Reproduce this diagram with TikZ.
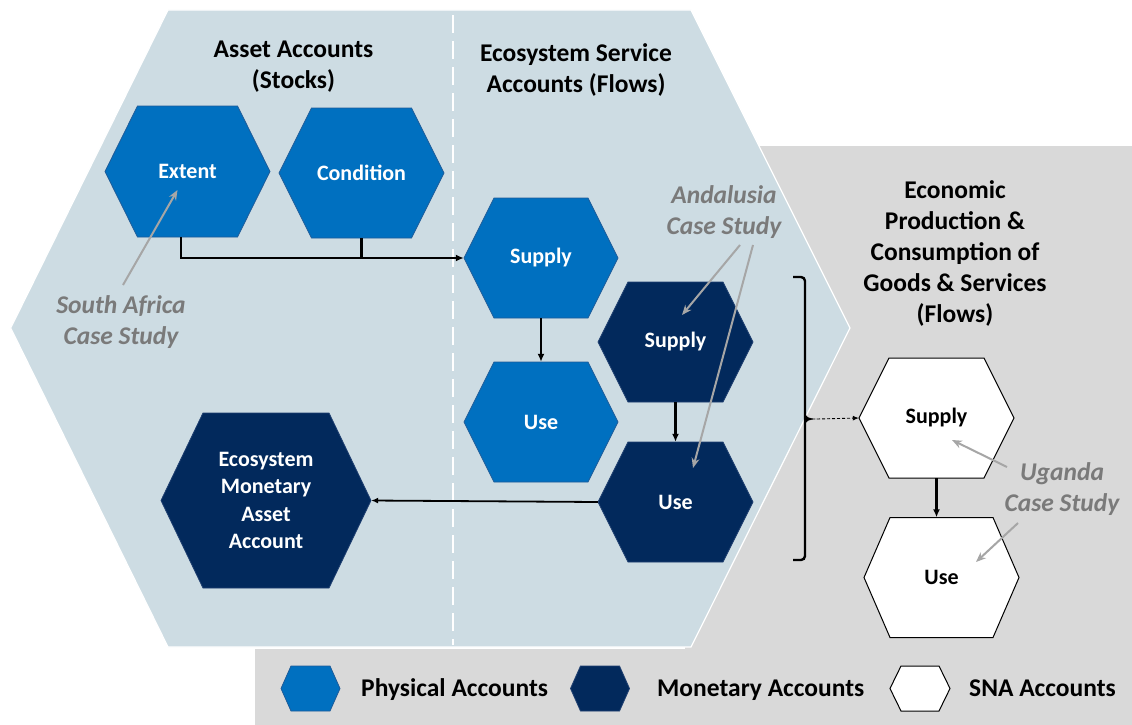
\documentclass[tikz,border=0pt]{standalone}
\usepackage{fontspec}
\setmainfont{Carlito}
\usetikzlibrary{arrows.meta,calc}
\definecolor{physblue}{HTML}{0070C0}
\definecolor{physedge}{HTML}{1F5C99}
\definecolor{monblue}{HTML}{02295C}
\definecolor{monedge}{HTML}{1F3F70}
\definecolor{bgblue}{HTML}{CDDCE3}
\definecolor{bggrey}{HTML}{D9D9D9}
\definecolor{casegrey}{HTML}{7A7A7A}
\definecolor{pointgrey}{HTML}{A6A6A6}

% hexagon with pointed left/right ends and a named label node on top
% #1 style, #2 name, #3 x, #4 y, #5 half width, #6 half height, #7 slant, #8 label
\newcommand{\hexnode}[8]{%
  \draw[#1] (#3-#5,#4) -- (#3-#5+#7,#4-#6) -- (#3+#5-#7,#4-#6) -- (#3+#5,#4)
    -- (#3+#5-#7,#4+#6) -- (#3-#5+#7,#4+#6) -- cycle;
  \node[hexlabel, minimum width=2*#5, minimum height=2*#6] (#2) at (#3,#4) {#8};
}

\tikzset{
  physhex/.style={fill=physblue, draw=physedge, line width=0.8pt},
  monhex/.style={fill=monblue, draw=monedge, line width=0.8pt},
  snahex/.style={fill=white, draw=black, line width=1pt},
  hexlabel/.style={inner sep=0pt, align=center, text=white,
    font=\bfseries\fontsize{22}{27.5}\selectfont},
  heading/.style={align=center, inner sep=0pt, text=black,
    font=\bfseries\fontsize{25.5}{31}\selectfont},
  casetext/.style={align=center, inner sep=0pt, text=casegrey,
    font=\bfseries\itshape\fontsize{25.5}{31}\selectfont},
  legendtext/.style={anchor=west, inner sep=0pt, text=black,
    font=\bfseries\fontsize{25.5}{31}\selectfont},
  flow/.style={draw=black, line width=2.4pt, -{Latex[length=8pt,width=7pt]}},
  thinflow/.style={draw=black, line width=1.8pt, -{Latex[length=7pt,width=6pt]}},
  pointer/.style={draw=pointgrey, line width=2pt, -{Stealth[length=10pt,width=8pt]}},
}

\begin{document}
\begin{tikzpicture}[x=1pt,y=-1pt]
\useasboundingbox (0,0) rectangle (1132,725);
\fill[white] (0,0) rectangle (1132,725);

% grey panel of the economy accounts and the legend band
\fill[bggrey] (685,146) rectangle (1132,725);
\fill[bggrey] (255,649) rectangle (1132,725);

% large ecosystem accounting hexagon
\draw[fill=bgblue, draw=white, line width=1.2pt]
  (10.7,328) -- (168,10) -- (691,10) -- (850,328) -- (691,647) -- (168,647) -- cycle;

% divider between stock and flow accounts
\draw[white, line width=2.5pt, dash pattern=on 18pt off 8pt] (453,15) -- (453,645);

% section headings
\node[heading] (hassets) at (293.5,67) {Asset Accounts\\(Stocks)};
\node[heading] (hservice) at (576,70) {Ecosystem Service\\Accounts (Flows)};
\node[heading] (hecon) at (955,253.5) {Economic\\Production \&\\Consumption of\\Goods \& Services\\(Flows)};

% account hexagons
\hexnode{physhex}{ext}{187.5}{171.5}{82.5}{65.5}{32.5}{Extent}
\hexnode{physhex}{cond}{361.5}{173}{82.5}{65}{32.5}{Condition}
\hexnode{physhex}{psup}{541}{258}{77}{60}{30}{Supply}
\hexnode{physhex}{puse}{541}{422}{77}{60}{30}{Use}
\hexnode{monhex}{msup}{675.5}{342}{77.5}{60}{30}{Supply}
\hexnode{monhex}{muse}{675.5}{502}{77.5}{60}{30}{Use}
\hexnode{monhex}{emaa}{266}{500.5}{105}{87.5}{42}{Ecosystem\\Monetary\\Asset\\Account}
\hexnode{snahex}{ssup}{936.5}{418}{77.5}{60}{30}{\textcolor{black}{Supply}}
\hexnode{snahex}{suse}{941.5}{577.5}{77.5}{60}{26}{\textcolor{black}{Use}}

% flows between accounts
\coordinate (extfoot) at ($(ext.south)+(-6.5,0)$);
\draw[flow] (extfoot) |- (psup.west);
\draw[draw=black, line width=2.4pt] (cond.south) -- (cond.south |- psup.west);
\draw[flow] (psup.south) -- (puse.north);
\draw[flow] (msup.south) -- (msup.south |- muse.north);
\draw[thinflow] (muse.west) -- (emaa.east);

% brace grouping the ecosystem service flows
\coordinate (bracetip) at (817,419);
\draw[black, line width=2.4pt, rounded corners=4pt] (793,277) -- (805,277) -- (805,560) -- (793,560);
\fill[black] (805,414) .. controls (808,418) .. (817,419) .. controls (808,420) .. (805,424) -- cycle;
\draw[black, line width=0.9pt, densely dashed, -{Latex[length=6pt,width=5pt]}] (bracetip) -- (ssup.west);
\draw[flow] (ssup.south) -- (ssup.south |- suse.north);

% case study labels and pointers
\node[casetext] (casesa) at (121,322) {South Africa\\Case Study};
\node[casetext] (casean) at (724,212.5) {Andalusia\\Case Study};
\node[casetext] (caseug) at (1062,489) {Uganda\\Case Study};

\coordinate (sa0) at (123,285);
\coordinate (sa1) at (177.5,190);
\draw[pointer] (sa0) -- (sa1);
\coordinate (an0) at (740,245);
\coordinate (an1) at (682,315);
\draw[pointer] (an0) -- (an1);
\coordinate (an2) at (753,245);
\coordinate (an3) at (693,468);
\draw[pointer] (an2) -- (an3);
\coordinate (ug0) at (1007,467);
\coordinate (ug1) at (952,440);
\draw[pointer] (ug0) -- (ug1);
\coordinate (ug2) at (1018,523);
\coordinate (ug3) at (976,562);
\draw[pointer] (ug2) -- (ug3);

% legend
\hexnode{physhex}{keyphys}{310.5}{688.5}{29.5}{22.5}{10}{}
\node[legendtext] (lphys) at (361,690) {Physical Accounts};
\hexnode{monhex}{keymon}{600}{688.5}{29.5}{22.5}{10}{}
\node[legendtext] (lmon) at (657,690) {Monetary Accounts};
\hexnode{snahex}{keysna}{920}{688.5}{30}{22.5}{11}{}
\node[legendtext] (lsna) at (969,688) {SNA Accounts};
\end{tikzpicture}
\end{document}
